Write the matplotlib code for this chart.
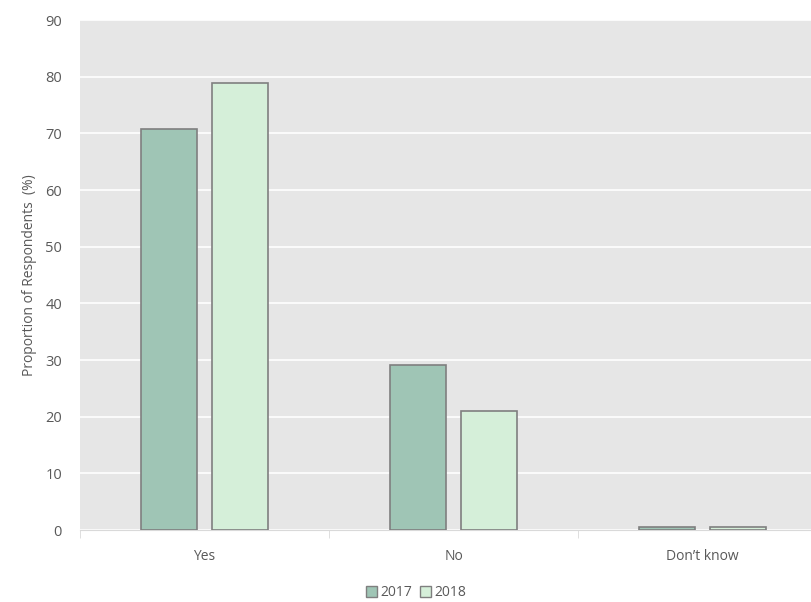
import numpy as np
import matplotlib
matplotlib.use("Agg")
import matplotlib.pyplot as plt
import matplotlib.patches as mpatches

categories = ["Yes", "No", "Don\u2019t know"]
years = ["2017", "2018"]
vals_2017 = [70.8, 29.2, 0.5]
vals_2018 = [78.9, 21.0, 0.5]

plt.rcParams["font.family"] = ["Open Sans", "DejaVu Sans"]
txt = "#595959"

fig = plt.figure(figsize=(8.11, 6.02), dpi=100)
# the plot area runs a little past the right edge, as in the original
ax = fig.add_axes([80 / 811, 1 - 530 / 602, 747 / 811, 510 / 602])
ax.set_facecolor("#e6e6e6")

x = np.arange(len(categories))
w = 0.225
off = 0.1425
ax.bar(x - off, vals_2017, w, color="#9fc5b5", edgecolor="#7f7f7f", lw=1.2, zorder=3)
ax.bar(x + off, vals_2018, w, color="#d5efd9", edgecolor="#7f7f7f", lw=1.2, zorder=3)

ax.set_xlim(-0.5, 2.5)
ax.set_ylim(0, 90)
ax.set_yticks(range(0, 91, 10))
ax.yaxis.grid(True, color="white", lw=1.2, zorder=1)
ax.set_axisbelow(True)
for s in ["top", "right", "left"]:
    ax.spines[s].set_visible(False)
ax.spines["bottom"].set_color("#d9d9d9")
ax.tick_params(axis="y", length=0, labelsize=10.5, colors=txt, pad=13)
ax.set_xticks(x)
ax.set_xticklabels(categories)
ax.tick_params(axis="x", length=0, labelsize=10, colors=txt, pad=14)
# category separators
ax.set_xticks([-0.5, 0.5, 1.5, 2.5], minor=True)
ax.tick_params(axis="x", which="minor", length=6, color="#d9d9d9")
ax.set_ylabel("Proportion of Respondents  (%)", fontsize=10, color=txt, labelpad=6)

handles = [mpatches.Patch(facecolor="#9fc5b5", edgecolor="#7f7f7f", label=years[0]),
           mpatches.Patch(facecolor="#d5efd9", edgecolor="#7f7f7f", label=years[1])]
fig.legend(handles=handles, loc="center", bbox_to_anchor=(416 / 811, 1 - 593 / 602), ncol=2,
           frameon=False, fontsize=10, handlelength=0.8, handleheight=0.8,
           handletextpad=0.2, columnspacing=0.6, labelcolor=txt)

fig.savefig("out.png", dpi=100)
